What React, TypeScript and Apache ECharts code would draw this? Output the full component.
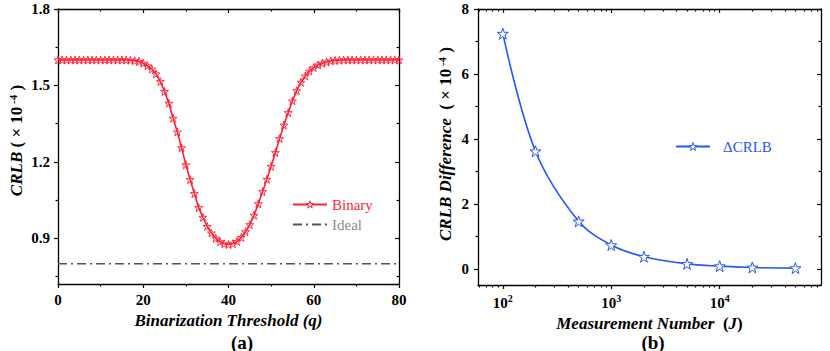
import React, { useEffect, useRef } from 'react';
import * as echarts from 'echarts';

// ---------- data ----------
const thresholdQ: number[] = [
  0, 1, 2, 3, 4, 5, 6, 7, 8, 9, 10, 11, 12, 13, 14, 15, 16, 17, 18, 19, 20,
  21, 22, 23, 24, 25, 26, 27, 28, 29, 30, 31, 32, 33, 34, 35, 36, 37, 38, 39, 40,
  41, 42, 43, 44, 45, 46, 47, 48, 49, 50, 51, 52, 53, 54, 55, 56, 57, 58, 59, 60,
  61, 62, 63, 64, 65, 66, 67, 68, 69, 70, 71, 72, 73, 74, 75, 76, 77, 78, 79, 80,
];
const binaryCRLB: number[] = [
  1.6, 1.6, 1.6, 1.6, 1.6, 1.6, 1.6, 1.6, 1.6, 1.6, 1.6, 1.6, 1.6, 1.6, 1.6, 1.6, 1.6,
  1.599, 1.597, 1.594, 1.587, 1.577, 1.564, 1.545, 1.515, 1.476, 1.43, 1.371, 1.317,
  1.255, 1.188, 1.13, 1.075, 1.02, 0.982, 0.946, 0.92, 0.9, 0.886, 0.878, 0.875,
  0.878, 0.887, 0.903, 0.925, 0.953, 0.99, 1.035, 1.083, 1.131, 1.182, 1.236, 1.291,
  1.344, 1.393, 1.439, 1.479, 1.512, 1.537, 1.556, 1.57, 1.58, 1.587, 1.592, 1.596,
  1.598, 1.599,
  1.6, 1.6, 1.6, 1.6, 1.6, 1.6, 1.6, 1.6, 1.6, 1.6, 1.6, 1.6, 1.6, 1.6,
];
const idealQ: number[] = [0, 80];
const idealCRLB: number[] = [0.8, 0.8];

const measurementJ: number[] = [100, 200, 500, 1000, 2000, 5000, 10000, 20000, 50000];
const crlbDifference: number[] = [7.24, 3.62, 1.46, 0.73, 0.37, 0.15, 0.08, 0.04, 0.02];

const aYLabels: number[] = [0.9, 1.2, 1.5, 1.8];
const aYMinor: number[] = [0.75, 1.05, 1.35, 1.65];
const bYLabels: number[] = [0, 2, 4, 6, 8];
const bYMinor: number[] = [1, 3, 5, 7];
const bXLabels: number[] = [100, 1000, 10000];
const bXMinor: number[] = [
  60, 70, 80, 90, 200, 300, 400, 500, 600, 700, 800, 900,
  2000, 3000, 4000, 5000, 6000, 7000, 8000, 9000,
  20000, 30000, 40000, 50000, 60000, 70000, 80000,
];

// ---------- style ----------
const FONT = 'Liberation Serif';
const RED = '#ff1f33';
const BLUE = '#2457f5';
const GRAY = '#555555';
const STAR = 'path://M50,2 L61.5,36.5 L97.5,36.5 L68.5,58 L79.5,93 L50,71.5 L20.5,93 L31.5,58 L2.5,36.5 L38.5,36.5 Z';
const AXIS_LINE = { show: true, onZero: false, lineStyle: { color: '#000', width: 1.3 } };
const HIDDEN_LINE = { show: false, onZero: false };
const TICK_FS = 15;

const labelRich = {
  b: { fontFamily: FONT, fontSize: TICK_FS, fontWeight: 'bold', color: '#000', lineHeight: 17, verticalAlign: 'bottom' },
  s: { fontFamily: FONT, fontSize: 10, fontWeight: 'bold', color: '#000', lineHeight: 17, verticalAlign: 'top', padding: [0, 0, 6, 0] },
};
const nameRich = {
  i: { fontFamily: FONT, fontSize: 17, fontWeight: 'bold', fontStyle: 'italic', color: '#000', lineHeight: 19 },
  n: { fontFamily: FONT, fontSize: 17, fontWeight: 'bold', color: '#000', lineHeight: 19 },
  s: { fontFamily: FONT, fontSize: 11, fontWeight: 'bold', color: '#000', lineHeight: 19, verticalAlign: 'top' },
};

function tickAxis(extra: any) {
  return {
    splitLine: { show: false },
    axisLabel: { show: false },
    axisLine: HIDDEN_LINE,
    ...extra,
  };
}

function buildOption() {
  const binaryData = thresholdQ.map((q, i) => [q, binaryCRLB[i]]);
  const idealData = idealQ.map((q, i) => [q, idealCRLB[i]]);
  const diffData = measurementJ.map((j, i) => [j, crlbDifference[i]]);

  const xA = { type: 'value', gridIndex: 0, min: 0, max: 80, interval: 20 };
  const yA = { type: 'value', gridIndex: 0, min: 0.72, max: 1.8 };
  const xB = { type: 'log', gridIndex: 1, min: 59, max: 86000, logBase: 10 };
  const yB = { type: 'value', gridIndex: 1, min: -0.5, max: 8 };
  const tickLine = { color: '#000', width: 1.2 };

  return {
    animation: false,
    backgroundColor: '#fff',
    textStyle: { fontFamily: FONT },
    grid: [
      { left: 58, top: 9, width: 341, height: 275 },
      { left: 478, top: 9, width: 343, height: 276 },
    ],
    legend: [
      {
        orient: 'vertical',
        left: 287,
        top: 192,
        itemWidth: 34,
        itemHeight: 9,
        itemGap: 5,
        textStyle: { fontFamily: FONT, fontSize: 15 },
        data: [
          { name: 'Binary', textStyle: { color: RED }, itemStyle: { color: '#fff', borderColor: RED, borderWidth: 1 } },
          { name: 'Ideal', textStyle: { color: '#8a8a8a' }, itemStyle: { opacity: 0 } },
        ],
      },
      {
        left: 670,
        top: 134,
        itemWidth: 34,
        itemHeight: 10,
        textStyle: { fontFamily: FONT, fontSize: 15, padding: [0, 0, 0, 8] },
        data: [{ name: 'ΔCRLB', textStyle: { color: BLUE }, itemStyle: { color: '#fff', borderColor: BLUE, borderWidth: 1 } }],
      },
    ],
    xAxis: [
      {
        ...xA,
        position: 'bottom',
        axisLine: AXIS_LINE,
        axisTick: { show: true, inside: false, length: 4, lineStyle: tickLine },
        minorTick: { show: true, splitNumber: 2, length: 2.5, lineStyle: tickLine },
        axisLabel: { margin: 8, fontFamily: FONT, fontSize: TICK_FS, fontWeight: 'bold', color: '#000' },
        splitLine: { show: false },
        name: '{i|Binarization Threshold (q)}',
        nameLocation: 'middle',
        nameGap: 27,
        nameTextStyle: { rich: nameRich },
      },
      {
        ...xA,
        position: 'top',
        axisLine: AXIS_LINE,
        axisTick: { show: true, inside: true, length: 4, lineStyle: tickLine },
        minorTick: { show: true, splitNumber: 2, length: 2.5, lineStyle: tickLine },
        axisLabel: { show: false },
        splitLine: { show: false },
      },
      {
        ...xB,
        position: 'bottom',
        axisLine: AXIS_LINE,
        axisTick: { show: true, inside: false, length: 4, customValues: bXLabels, lineStyle: tickLine },
        axisLabel: {
          margin: 8,
          customValues: bXLabels,
          formatter: (v: number) => '{b|10}{s|' + Math.round(Math.log10(v)) + '}',
          rich: labelRich,
        },
        splitLine: { show: false },
        name: '{i|Measurement Number}{n|  (}{i|J}{n|)}',
        nameLocation: 'middle',
        nameGap: 26,
        nameTextStyle: { rich: nameRich },
      },
      tickAxis({
        ...xB,
        position: 'bottom',
        axisTick: { show: true, inside: false, length: 2.5, customValues: bXMinor, lineStyle: tickLine },
      }),
      {
        ...xB,
        position: 'top',
        axisLine: AXIS_LINE,
        axisTick: { show: true, inside: true, length: 4, customValues: bXLabels, lineStyle: tickLine },
        axisLabel: { show: false },
        splitLine: { show: false },
      },
      tickAxis({
        ...xB,
        position: 'top',
        axisTick: { show: true, inside: true, length: 2.5, customValues: bXMinor, lineStyle: tickLine },
      }),
    ],
    yAxis: [
      {
        ...yA,
        position: 'left',
        axisLine: AXIS_LINE,
        axisTick: { show: true, inside: false, length: 4, customValues: aYLabels, lineStyle: tickLine },
        axisLabel: {
          margin: 8,
          customValues: aYLabels,
          formatter: (v: number) => v.toFixed(1),
          fontFamily: FONT, fontSize: TICK_FS, fontWeight: 'bold', color: '#000',
        },
        splitLine: { show: false },
        name: '{i|CRLB}{n| ( × 10}{s| -4}{n| )}',
        nameLocation: 'middle',
        nameGap: 32,
        nameTextStyle: { rich: nameRich, padding: [0, 0, 0, 12] },
      },
      tickAxis({
        ...yA,
        position: 'left',
        axisTick: { show: true, inside: false, length: 2.5, customValues: aYMinor, lineStyle: tickLine },
      }),
      {
        ...yA,
        position: 'right',
        axisLine: AXIS_LINE,
        axisTick: { show: true, inside: true, length: 4, customValues: aYLabels, lineStyle: tickLine },
        axisLabel: { show: false },
        splitLine: { show: false },
      },
      tickAxis({
        ...yA,
        position: 'right',
        axisTick: { show: true, inside: true, length: 2.5, customValues: aYMinor, lineStyle: tickLine },
      }),
      {
        ...yB,
        position: 'left',
        axisLine: AXIS_LINE,
        axisTick: { show: true, inside: false, length: 4, customValues: bYLabels, lineStyle: tickLine },
        axisLabel: {
          margin: 9,
          customValues: bYLabels,
          fontFamily: FONT, fontSize: TICK_FS, fontWeight: 'bold', color: '#000',
        },
        splitLine: { show: false },
        name: '{i|CRLB Difference}{n|  ( × 10}{s| -4}{n| )}',
        nameLocation: 'middle',
        nameGap: 23,
        nameTextStyle: { rich: nameRich, padding: [0, 0, 0, 6] },
      },
      tickAxis({
        ...yB,
        position: 'left',
        axisTick: { show: true, inside: false, length: 2.5, customValues: bYMinor, lineStyle: tickLine },
      }),
      {
        ...yB,
        position: 'right',
        axisLine: AXIS_LINE,
        axisTick: { show: true, inside: true, length: 4, customValues: bYLabels, lineStyle: tickLine },
        axisLabel: { show: false },
        splitLine: { show: false },
      },
      tickAxis({
        ...yB,
        position: 'right',
        axisTick: { show: true, inside: true, length: 2.5, customValues: bYMinor, lineStyle: tickLine },
      }),
    ],
    graphic: [
      {
        type: 'text', x: 242, y: 342,
        style: { text: '(a)', fontFamily: FONT, fontSize: 19, fontWeight: 'bold', fill: '#000', align: 'center', verticalAlign: 'middle' },
      },
      {
        type: 'text', x: 653, y: 342,
        style: { text: '(b)', fontFamily: FONT, fontSize: 19, fontWeight: 'bold', fill: '#000', align: 'center', verticalAlign: 'middle' },
      },
    ],
    series: [
      {
        name: 'Binary',
        type: 'line',
        xAxisIndex: 0,
        yAxisIndex: 0,
        data: binaryData,
        smooth: false,
        symbol: STAR,
        symbolSize: 8,
        showSymbol: true,
        lineStyle: { color: RED, width: 1.6 },
        itemStyle: { color: 'rgba(255,255,255,0)', borderColor: RED, borderWidth: 0.9 },
        z: 3,
      },
      {
        name: 'Ideal',
        type: 'line',
        xAxisIndex: 0,
        yAxisIndex: 0,
        data: idealData,
        symbol: 'none',
        lineStyle: { color: GRAY, width: 1.5, type: [9, 4, 2, 4] },
        itemStyle: { color: GRAY },
      },
      {
        name: 'ΔCRLB',
        type: 'line',
        xAxisIndex: 2,
        yAxisIndex: 4,
        data: diffData,
        smooth: 0.35,
        symbol: STAR,
        symbolSize: 11,
        lineStyle: { color: BLUE, width: 1.6 },
        itemStyle: { color: '#fff', borderColor: BLUE, borderWidth: 1 },
        z: 3,
      },
    ],
  };
}

export default function App() {
  const ref = useRef<HTMLDivElement>(null);
  useEffect(() => {
    if (!ref.current) return;
    const chart = echarts.init(ref.current, null, { renderer: 'svg' });
    chart.setOption(buildOption() as any);
    return () => chart.dispose();
  }, []);
  return (
    <div
      ref={ref}
      style={{ position: 'fixed', left: 0, top: 0, width: 830, height: 351, background: '#fff' }}
    />
  );
}
